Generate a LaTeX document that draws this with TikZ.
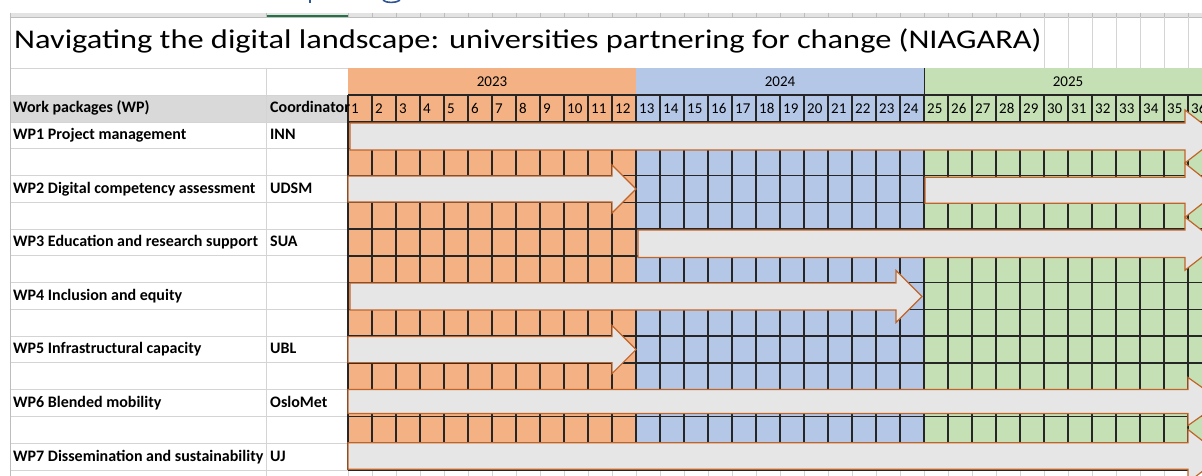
\documentclass[tikz,border=0pt]{standalone}
\usepackage{graphicx}
\usepackage{fontspec}
\setmainfont{Carlito}

\definecolor{yrorange}{HTML}{F4B183}
\definecolor{yrblue}{HTML}{B4C7E7}
\definecolor{yrgreen}{HTML}{C5E0B4}
\definecolor{hdrgray}{HTML}{D9D9D9}
\definecolor{gridgray}{HTML}{D4D4D4}
\definecolor{bandgray}{HTML}{E3E3E3}
\definecolor{bandline}{HTML}{BDBDBD}
\definecolor{selgreen}{HTML}{217346}
\definecolor{headblue}{HTML}{2F5597}
\definecolor{barfill}{HTML}{E7E6E6}
\definecolor{barline}{HTML}{C0652A}
\definecolor{cellline}{HTML}{262626}

% one Gantt bar: left x, head base x, apex x, centre y, body half height, head half height
\newcommand\ganttbar[6]{%
  \draw[barshape] (#1,#4-#5) -- (#2,#4-#5) -- (#2,#4-#6) -- (#3,#4)
    -- (#2,#4+#6) -- (#2,#4+#5) -- (#1,#4+#5) -- cycle;}

\begin{document}
\begin{tikzpicture}[x=1pt,y=-1pt,
  sheetgrid/.style={draw=gridgray, line width=0.9pt},
  cellgrid/.style={draw=cellline, line width=1.4pt},
  barshape/.style={fill=barfill, draw=barline, line width=1.2pt, line join=miter},
  wplabel/.style={anchor=base west, inner sep=0pt, font=\fontsize{16}{18}\selectfont\bfseries},
  monthnum/.style={anchor=base west, inner sep=0pt, font=\fontsize{15}{18}\selectfont},
  yearlabel/.style={anchor=base, inner sep=0pt, font=\fontsize{15}{18}\selectfont}]

\useasboundingbox (0,0) rectangle (1202,476);
\clip (0,0) rectangle (1202,476);
\fill[white] (0,0) rectangle (1202,476);

% heading above the sheet, only its descenders remain in view
\draw[headblue, line width=1.8pt] (310,-1) -- (310,3.4);
\draw[headblue, line width=1.6pt] (383,0.2) .. controls (386,3.2) and (396,3.2) .. (400,0.2);

% column header strip
\fill[bandgray] (10,12.7) rectangle (1202,17.3);
\foreach \k in {0,...,36} \draw[bandline, line width=0.7pt] ({348+24*\k},12.7) -- ({348+24*\k},17.3);
\draw[bandline, line width=0.7pt] (266.7,12.7) -- (266.7,17.3);
\draw[bandline, line width=0.9pt] (10,17.3) -- (1202,17.3);
\draw[selgreen, line width=1.8pt] (266.7,16.3) -- (348.3,16.3);

% sheet gridlines in the label columns
\fill[hdrgray] (10,95) rectangle (348,122);
\draw[sheetgrid] (10,68) -- (1212,68);
\draw[sheetgrid] (10,95) -- (348,95);
\foreach \k in {0,...,13} \draw[sheetgrid] (10,{122+26.77*\k}) -- (348,{122+26.77*\k});
\draw[sheetgrid] (266.7,68) -- (266.7,476);
\draw[bandline, line width=0.9pt] (10,12.7) -- (10,476);
\foreach \k in {29,...,36} \draw[sheetgrid] ({348+24*\k},17.3) -- ({348+24*\k},68);
\foreach \k in {0,...,36} \draw[sheetgrid] ({348+24*\k},470) -- ({348+24*\k},476);

% year bands
\fill[yrorange] (348,68) rectangle (636,95);
\fill[yrblue]   (636,68) rectangle (924,95);
\fill[yrgreen]  (924,68) rectangle (1212,95);
\draw[cellline, line width=0.8pt] (924,68) -- (924,95);
\node[yearlabel] (y2023) at (492,86.7) {2023};
\node[yearlabel] (y2024) at (780,86.7) {2024};
\node[yearlabel] (y2025) at (1068,86.7) {2025};

% month cells
\fill[yrorange] (348,95) rectangle (636,470);
\fill[yrblue]   (636,95) rectangle (924,470);
\fill[yrgreen]  (924,95) rectangle (1212,470);
\foreach \k in {0,...,36} \draw[cellgrid] ({348+24*\k},95) -- ({348+24*\k},470);
\draw[cellgrid] (348,95) -- (1212,95);
\foreach \k in {0,...,13} \draw[cellgrid] (348,{122+26.77*\k}) -- (1212,{122+26.77*\k});
\foreach \m in {1,...,36} \node[monthnum] (m\m) at ({348+24*(\m-1)+3},113.3) {\m};

% title
\node[anchor=base west, inner sep=0pt] (title) at (14,48.3)
  {\scalebox{1.2}[1]{\fontsize{27}{30}\selectfont Navigating the digital landscape: universities partnering for change (NIAGARA)}};

% column heads
\node[wplabel] (hwp) at (13,112.7) {Work packages (WP)};
\node[wplabel] (hco) at (270,112.7) {Coordinator};

% work package rows
\node[wplabel] (wp1) at (13,139.8) {WP1 Project management};
\node[wplabel] (c1)  at (270,139.8) {INN};
\node[wplabel] (wp2) at (13,193.3) {WP2 Digital competency assessment};
\node[wplabel] (c2)  at (270,193.3) {UDSM};
\node[wplabel] (wp3) at (13,246.9) {WP3 Education and research support};
\node[wplabel] (c3)  at (270,246.9) {SUA};
\node[wplabel] (wp4) at (13,300.4) {WP4 Inclusion and equity};
\node[wplabel] (wp5) at (13,353.9) {WP5 Infrastructural capacity};
\node[wplabel] (c5)  at (270,353.9) {UBL};
\node[wplabel] (wp6) at (13,407.5) {WP6 Blended mobility};
\node[wplabel] (c6)  at (270,407.5) {OsloMet};
\node[wplabel] (wp7) at (13,461.0) {WP7 Dissemination and sustainability};
\node[wplabel] (c7)  at (270,461.0) {UJ};

% Gantt bars
\ganttbar{350}{1185}{1219}{136.5}{13.5}{26.5}
\ganttbar{348}{612}{636}{189}{13}{24}
\ganttbar{925}{1185}{1219}{190.3}{13}{27}
\ganttbar{638}{1185}{1219}{243.7}{13.7}{26.5}
\ganttbar{350}{896}{922}{296.5}{13.5}{26}
\ganttbar{348}{612}{636}{349.6}{13}{24}
\ganttbar{348}{1188}{1222}{401.5}{12}{24}
\ganttbar{348}{1188}{1222}{456}{13.3}{26.5}

\end{tikzpicture}
\end{document}
